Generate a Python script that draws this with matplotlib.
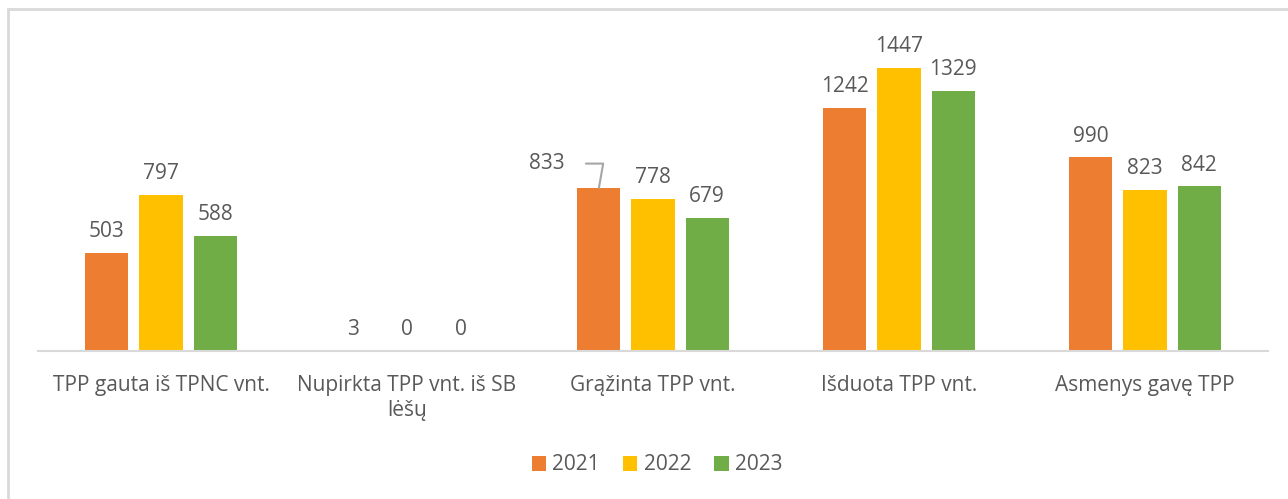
import numpy as np
import matplotlib.pyplot as plt
from matplotlib.patches import Rectangle

plt.rcParams['font.family'] = ['Open Sans', 'DejaVu Sans']

# chart data
categories = ['TPP gauta iš TPNC vnt.', 'Nupirkta TPP vnt. iš SB\nlėšų',
              'Grąžinta TPP vnt.', 'Išduota TPP vnt.', 'Asmenys gavę TPP']
years = ['2021', '2022', '2023']
v2021 = [503, 3, 833, 1242, 990]
v2022 = [797, 0, 778, 1447, 823]
v2023 = [588, 0, 679, 1329, 842]
colors = ['#ED7D31', '#FFC000', '#70AD47']

W, H = 1288, 499
fig = plt.figure(figsize=(W / 100, H / 100), dpi=100)

# outer chart frame (cut off at right/bottom like the screenshot)
fig.patches.append(Rectangle((8 / W, -0.1), 1.2, 1 - 9 / H + 0.1,
                             transform=fig.transFigure, fill=False,
                             edgecolor='#d9d9d9', linewidth=2))

ax = fig.add_axes([38 / W, (H - 351) / H, 1230 / W, 313 / H])
x = np.arange(len(categories))
width = 0.175
step = 0.22
text_col = '#595959'
fs = 15

for i, (vals, yr, c) in enumerate(zip([v2021, v2022, v2023], years, colors)):
    pos = x + (i - 1) * step
    ax.bar(pos, vals, width, color=c, label=yr)
    for j, (p, v) in enumerate(zip(pos, vals)):
        if i == 0 and j == 2:
            # label moved aside with leader line
            ax.annotate(str(v), xy=(p, v), xytext=(p - 0.21, v + 125),
                        ha='center', va='center', fontsize=fs, color=text_col,
                        arrowprops=dict(arrowstyle='-', color='#a6a6a6', lw=1.5,
                                        connectionstyle='angle,angleA=0,angleB=80,rad=0',
                                        shrinkA=13, shrinkB=0))
        else:
            ax.text(p, v + 55, str(v), ha='center', va='bottom',
                    fontsize=fs, color=text_col)

ax.set_xlim(-0.5, len(categories) - 0.5)
ax.set_ylim(0, 1600)
ax.set_xticks(x)
ax.set_xticklabels(categories, fontsize=fs, color=text_col, linespacing=1.25)
ax.tick_params(axis='x', length=0, pad=17)
ax.set_yticks([])
for s in ['top', 'right', 'left']:
    ax.spines[s].set_visible(False)
ax.spines['bottom'].set_color('#d9d9d9')
ax.spines['bottom'].set_linewidth(1.5)

leg = fig.legend(loc='center', bbox_to_anchor=(657 / W, 1 - 465 / H), ncol=3,
                 frameon=False, fontsize=fs, handlelength=0.7, handleheight=0.7,
                 handletextpad=0.3, columnspacing=1.1)
for t in leg.get_texts():
    t.set_color(text_col)

fig.savefig('out.png', dpi=100)
